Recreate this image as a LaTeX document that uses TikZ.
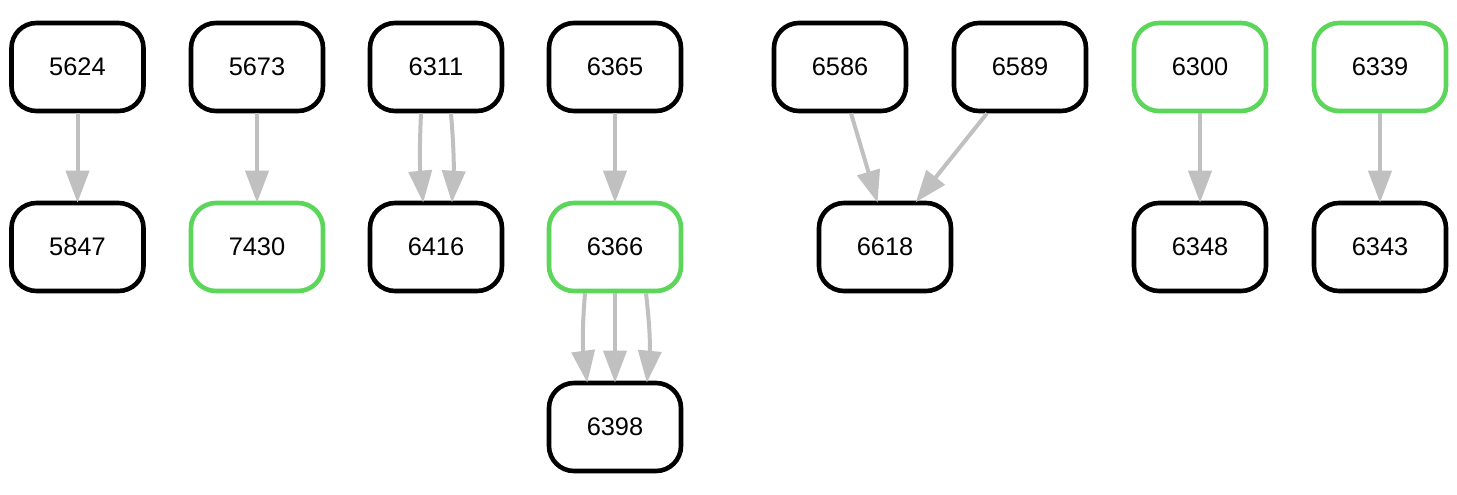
\documentclass[tikz,border=0pt]{standalone}
\usepackage{fontspec}
\setmainfont{Liberation Sans}
\usetikzlibrary{arrows.meta,calc}
\definecolor{edgegray}{HTML}{C0C0C0}
\definecolor{nodegreen}{HTML}{5CD65A}
\tikzset{
  box/.style={draw=black, line width=2.3pt, rounded corners=12.5pt, minimum width=66pt, minimum height=44pt, inner sep=0pt, font=\fontsize{12.7pt}{14pt}\selectfont, fill=white},
  gbox/.style={box, draw=nodegreen},
  edge/.style={draw=edgegray, line width=2pt, -{Triangle[length=16pt,width=11.5pt]}, shorten >=-1pt},
}
\begin{document}
\begin{tikzpicture}[x=0.5pt,y=-0.5pt]
\useasboundingbox (0,0) rectangle (1457,494);
% row 1
\node[box]  (n5624) at (77.5,67) {5624};
\node[box]  (n5673) at (257,67) {5673};
\node[box]  (n6311) at (436,67) {6311};
\node[box]  (n6365) at (615,67) {6365};
\node[box]  (n6586) at (840,67) {6586};
\node[box]  (n6589) at (1020,67) {6589};
\node[gbox] (n6300) at (1200,67) {6300};
\node[gbox] (n6339) at (1380,67) {6339};
% row 2
\node[box]  (n5847) at (77.5,247) {5847};
\node[gbox] (n7430) at (257,247) {7430};
\node[box]  (n6416) at (436,247) {6416};
\node[gbox] (n6366) at (615,247) {6366};
\node[box]  (n6618) at (885,247) {6618};
\node[box]  (n6348) at (1200,247) {6348};
\node[box]  (n6343) at (1380,247) {6343};
% row 3
\node[box]  (n6398) at (615,427) {6398};
% edges
\draw[edge] (n5624) -- (n5847);
\draw[edge] (n5673) -- (n7430);
\draw[edge] ($(n6311.south)+(-15,0)$) to[bend right=4] ($(n6416.north)+(-13,0)$);
\draw[edge] ($(n6311.south)+(15,0)$) to[bend left=4] ($(n6416.north)+(16,0)$);
\draw[edge] (n6365) -- (n6366);
\draw[edge] ($(n6366.south)+(-30,0)$) to[bend right=6] ($(n6398.north)+(-28,0)$);
\draw[edge] (n6366) -- (n6398);
\draw[edge] ($(n6366.south)+(31,0)$) to[bend left=6] ($(n6398.north)+(32,0)$);
\draw[edge] ($(n6586.south)+(11,0)$) -- ($(n6618.north)+(-8,0)$);
\draw[edge] ($(n6589.south)+(-33,0)$) -- ($(n6618.north)+(32,0)$);
\draw[edge] (n6300) -- (n6348);
\draw[edge] (n6339) -- (n6343);
\end{tikzpicture}
\end{document}
